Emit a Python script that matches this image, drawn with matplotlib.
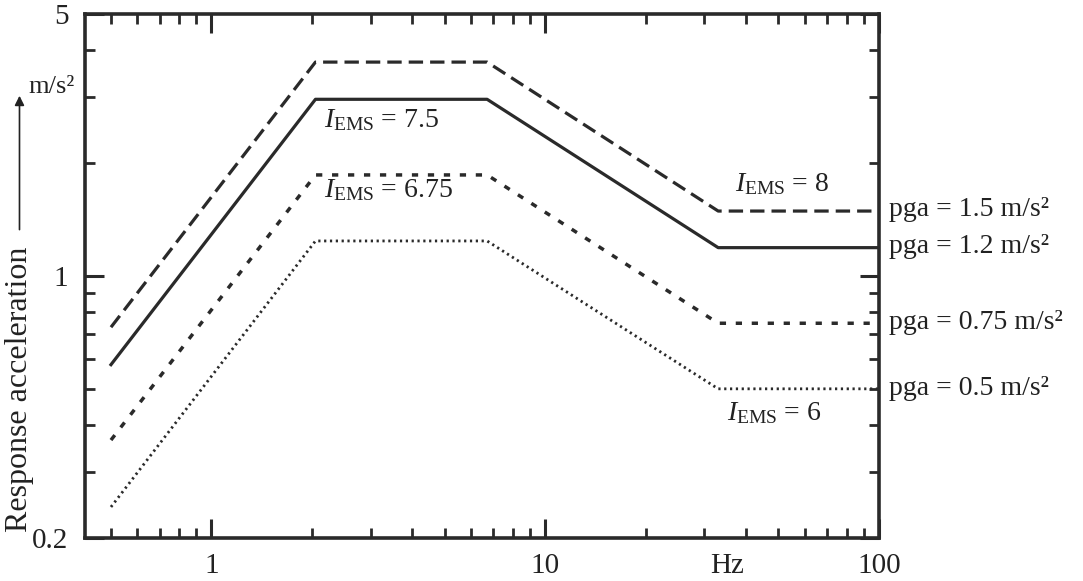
import matplotlib
matplotlib.use("Agg")
import matplotlib.pyplot as plt
from matplotlib.ticker import FixedLocator, NullFormatter, FixedFormatter

plt.rcParams['font.family'] = ['Liberation Serif', 'DejaVu Serif']
plt.rcParams['mathtext.fontset'] = 'custom'
plt.rcParams['mathtext.rm'] = 'Liberation Serif'
plt.rcParams['mathtext.it'] = 'Liberation Serif:italic'

# ---- data ----
freq = [0.5, 2.05, 6.7, 33, 100]
sa_pga15 = [0.73, 3.72, 3.72, 1.49, 1.49]
sa_pga12 = [0.58, 2.96, 2.96, 1.19, 1.19]
sa_pga075 = [0.365, 1.86, 1.86, 0.748, 0.748]
sa_pga05 = [0.242, 1.24, 1.24, 0.50, 0.50]
pga_values = [1.5, 1.2, 0.75, 0.5]
pga_labels = ["pga = 1.5 m/s²", "pga = 1.2 m/s²", "pga = 0.75 m/s²", "pga = 0.5 m/s²"]
ems_labels = [r"$I_{\mathrm{EMS}}$ = 7.5", r"$I_{\mathrm{EMS}}$ = 6.75",
              r"$I_{\mathrm{EMS}}$ = 8", r"$I_{\mathrm{EMS}}$ = 6"]
ems_pos = [(2.17, 2.6), (2.17, 1.69), (37.0, 1.76), (35.0, 0.43)]
x_major = [1, 10, 100]
x_labels = ["1", "10", "100"]
y_major = [0.2, 1, 5]
y_labels = ["0.2", "1", "5"]

fig = plt.figure(figsize=(10.83, 5.81), dpi=100)
ax = fig.add_axes([0.0785, 0.074, 0.733, 0.902])
ax.set_xscale('log')
ax.set_yscale('log')
ax.set_xlim(0.418, 100)
ax.set_ylim(0.2, 5)

col = '#2a2a2a'
tcol = '#222222'
ax.plot(freq, sa_pga15, color=col, lw=2.3, linestyle=(0, (4.5, 2.2)))
ax.plot(freq, sa_pga12, color=col, lw=2.3, linestyle='-')
ax.plot(freq, sa_pga075, color=col, lw=2.5, linestyle=(0, (1.8, 2.8)))
ax.plot(freq, sa_pga05, color=col, lw=2.0, linestyle=(0, (0.8, 1.3)))

# ticks
ax.xaxis.set_major_locator(FixedLocator(x_major))
ax.xaxis.set_major_formatter(FixedFormatter(x_labels))
xminor = [m * d for d in (0.1, 1, 10) for m in range(2, 10) if 0.418 < m * d < 100]
ax.xaxis.set_minor_locator(FixedLocator(xminor))
ax.xaxis.set_minor_formatter(NullFormatter())
ax.yaxis.set_major_locator(FixedLocator(y_major))
ax.yaxis.set_major_formatter(FixedFormatter(y_labels))
yminor = [0.3, 0.4, 0.5, 0.6, 0.7, 0.8, 0.9, 2, 3, 4]
ax.yaxis.set_minor_locator(FixedLocator(yminor))
ax.yaxis.set_minor_formatter(NullFormatter())
ax.tick_params(which='both', direction='in', top=True, right=True, color=col, labelcolor=tcol)
ax.tick_params(which='major', length=14, width=2.2, labelsize=21, pad=11)
ax.tick_params(which='minor', length=7, width=2.0)
ax.tick_params(axis='y', which='major', pad=12)
for s in ax.spines.values():
    s.set_linewidth(2.6)
    s.set_color(col)

# annotations
for lab, (x, y) in zip(ems_labels, ems_pos):
    ax.text(x, y, lab, fontsize=20, va='center', ha='left', color=tcol)
for lab, v in zip(pga_labels, pga_values):
    ax.annotate(lab, xy=(100, v), xytext=(7, 0), textcoords='offset points',
                fontsize=20, va='center', ha='left', color=tcol, annotation_clip=False)

ax.annotate("Hz", xy=(35, 0.2), xytext=(0, -11), textcoords='offset points',
            fontsize=21, ha='center', va='top', color=tcol, annotation_clip=False)

fig.text(0.048, 0.85, "m/s²", fontsize=19, ha='center', va='center', color=tcol)
fig.text(0.018, 0.33, "Response acceleration", fontsize=23, rotation=90,
         ha='center', va='center', color=tcol)
fig.add_artist(matplotlib.patches.FancyArrowPatch((0.018, 0.6), (0.018, 0.84),
               transform=fig.transFigure, arrowstyle='-|>', mutation_scale=14,
               lw=1.2, color=tcol))

fig.savefig('out.png', dpi=100)
